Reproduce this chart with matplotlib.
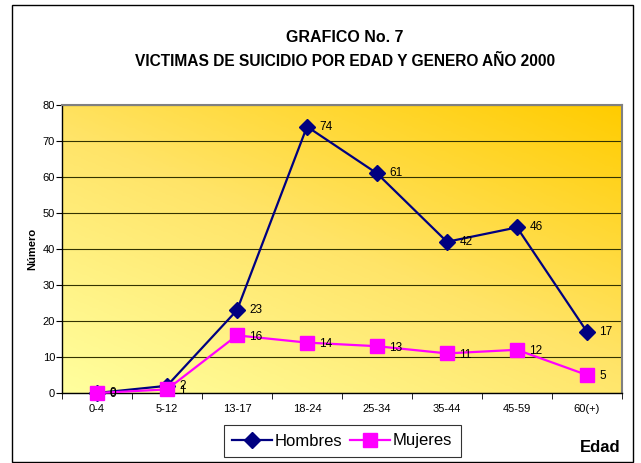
import numpy as np
import matplotlib
matplotlib.use("Agg")
import matplotlib.pyplot as plt
from matplotlib.colors import LinearSegmentedColormap
from matplotlib.patches import Rectangle

categories = ["0-4", "5-12", "13-17", "18-24", "25-34", "35-44", "45-59", "60(+)"]
hombres = [0, 2, 23, 74, 61, 42, 46, 17]
mujeres = [0, 1, 16, 14, 13, 11, 12, 5]
yticks = [0, 10, 20, 30, 40, 50, 60, 70, 80]

plt.rcParams['font.family'] = ['Liberation Sans', 'DejaVu Sans']

fig = plt.figure(figsize=(6.41, 4.63), dpi=100)
W, H = 641, 463
# outer border
fig.patches.append(Rectangle((12 / W, 1 - 462 / H), (633 - 12) / W, (462 - 5) / H,
                             transform=fig.transFigure, fill=False, edgecolor='black', lw=1.0))

ax = fig.add_axes([62 / W, 1 - 393 / H, (622 - 62) / W, (393 - 105) / H])
x = np.arange(len(categories))
ax.set_xlim(-0.5, len(categories) - 0.5)
ax.set_ylim(0, 80)

# gradient background
n = 200
gx, gy = np.meshgrid(np.linspace(0, 1, n), np.linspace(0, 1, n))
g = (gx * 0.45 + gy * 0.55)
cmap = LinearSegmentedColormap.from_list("y", ["#FFFF9E", "#FFE468", "#FFCC00"])
ax.imshow(g, cmap=cmap, origin='lower', aspect='auto',
          extent=(-0.5, len(categories) - 0.5, 0, 80), zorder=0)

ax.set_yticks(yticks)
ax.grid(axis='y', color='#333300', lw=0.8, zorder=1)
ax.set_xticks(x)
ax.set_xticklabels(categories, fontsize=8)
ax.set_xticks(np.arange(-0.5, len(categories), 1), minor=True)
ax.tick_params(axis='x', which='major', length=0, pad=8)
ax.tick_params(axis='x', which='minor', length=4, direction='out')
ax.tick_params(axis='y', labelsize=8, length=4, direction='out', pad=1)
for s in ['top', 'right']:
    ax.spines[s].set_color('#808080')
    ax.spines[s].set_linewidth(1.5)
for s in ['left', 'bottom']:
    ax.spines[s].set_color('black')
    ax.spines[s].set_linewidth(1.0)

l1, = ax.plot(x, hombres, color='#000080', lw=1.6, marker='D', markersize=8,
              markerfacecolor='#000080', markeredgecolor='#000080', zorder=3, clip_on=False,
              label='Hombres')
l2, = ax.plot(x, mujeres, color='#FF00FF', lw=1.6, marker='s', markersize=10,
              markerfacecolor='#FF00FF', markeredgecolor='#FF00FF', zorder=4, clip_on=False,
              label='Mujeres')

for xi, v in zip(x, hombres):
    ax.annotate(str(v), (xi, v), xytext=(9, 0), textcoords='offset points',
                fontsize=8.5, va='center', ha='left', zorder=5)
for xi, v in zip(x, mujeres):
    ax.annotate(str(v), (xi, v), xytext=(9, -1), textcoords='offset points',
                fontsize=8.5, va='center', ha='left', zorder=5)

ax.set_ylabel("Número", fontsize=8, fontweight='bold', labelpad=4)

cx = 345 / W
fig.text(cx, 1 - 37 / H, "GRAFICO No. 7", ha='center', va='center',
         fontsize=11.5, fontweight='bold')
fig.text(cx, 1 - 62 / H, "VICTIMAS DE SUICIDIO POR EDAD Y GENERO AÑO 2000",
         ha='center', va='center', fontsize=11.2, fontweight='bold')
fig.text(600 / W, 1 - 448 / H, "Edad", ha='center', va='center', fontsize=12, fontweight='bold')

leg = fig.legend(handles=[l1, l2], loc='center', bbox_to_anchor=(342 / W, 1 - 441 / H),
                 ncol=2, frameon=True, fancybox=False, edgecolor='black', fontsize=12,
                 handlelength=2.4, columnspacing=0.5, handletextpad=0.15, borderpad=0.5,
                 borderaxespad=0)
leg.get_frame().set_linewidth(0.8)

fig.savefig("out.png", dpi=100)
